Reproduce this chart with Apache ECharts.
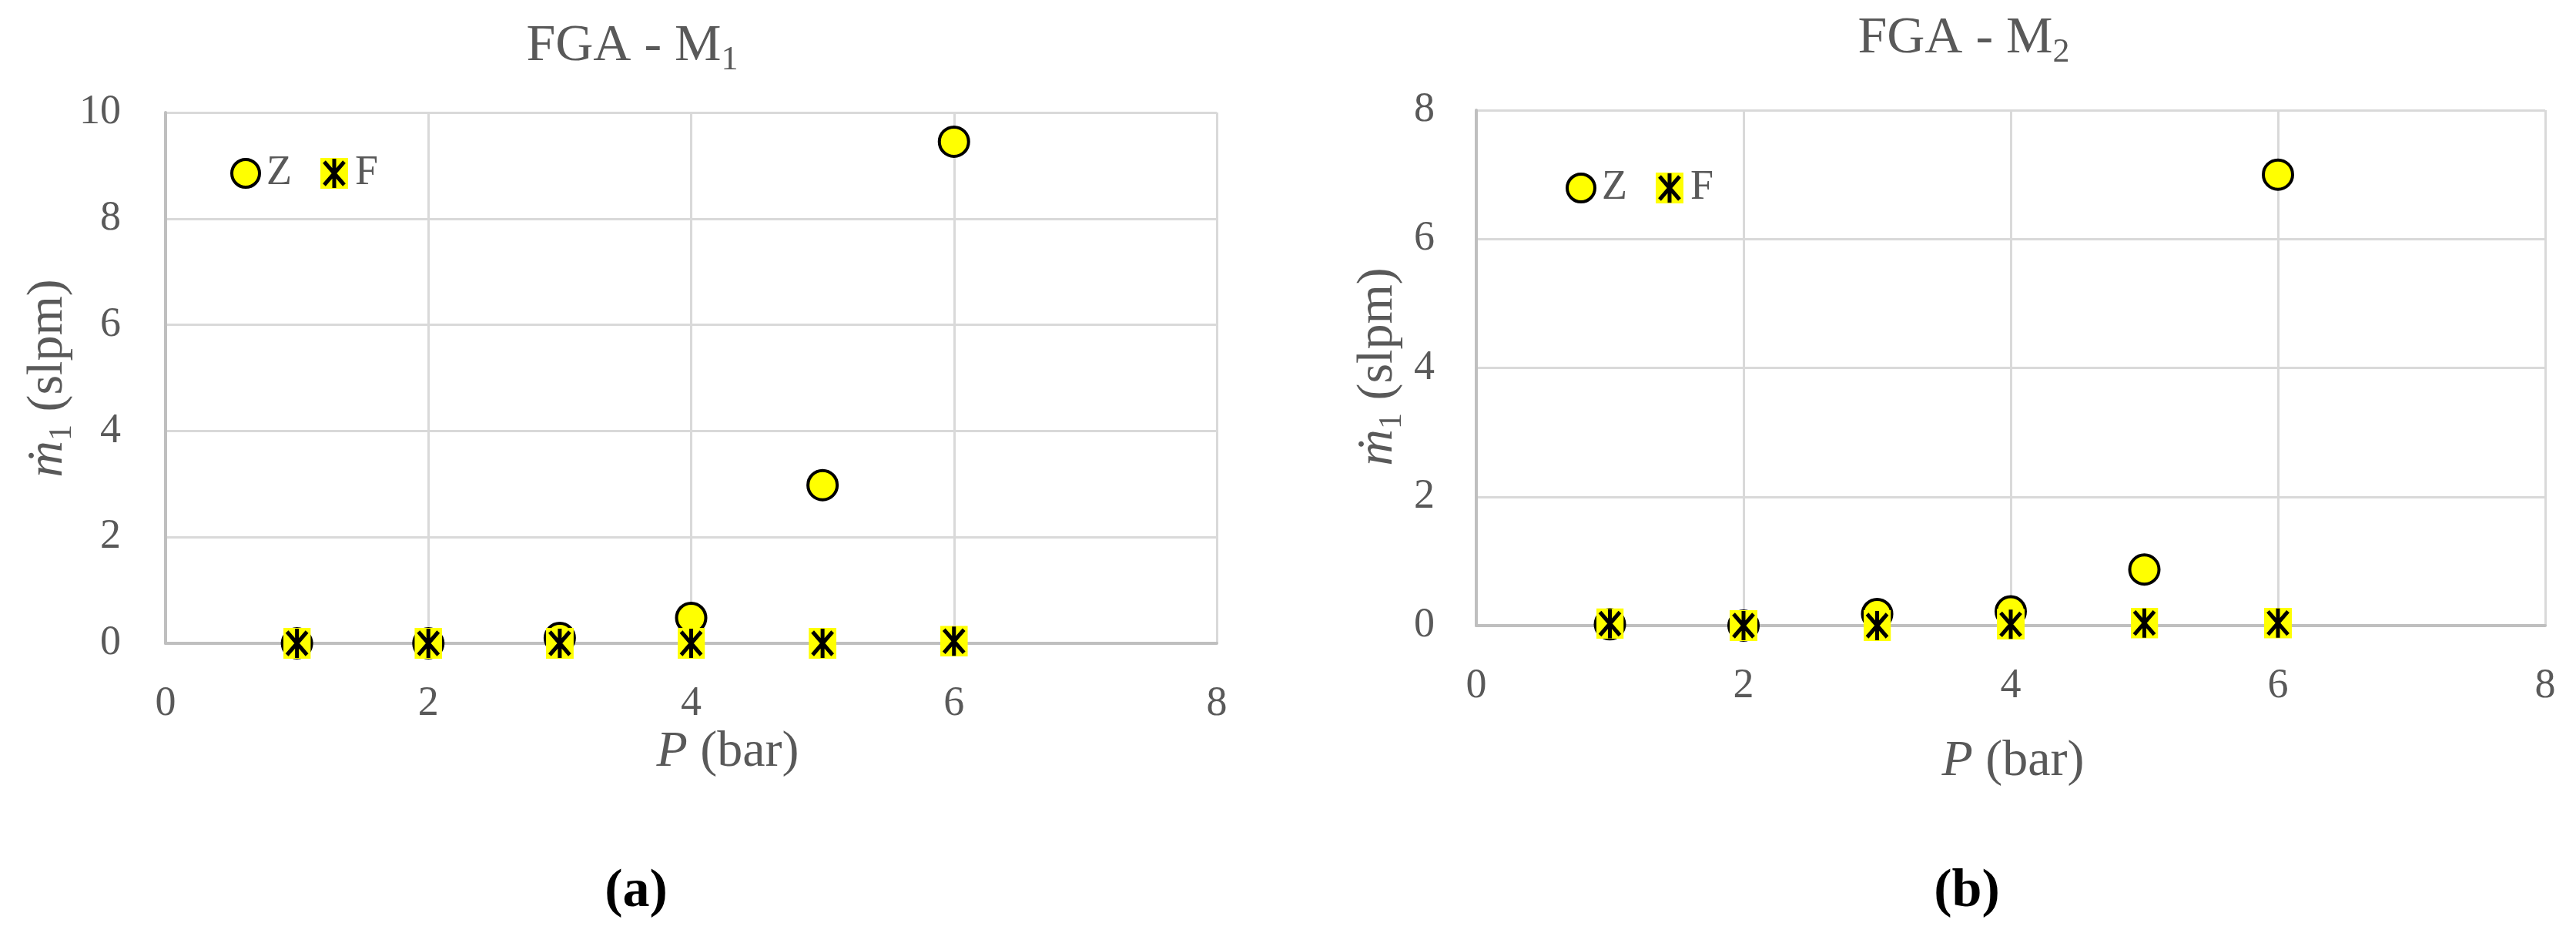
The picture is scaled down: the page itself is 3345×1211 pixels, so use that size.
<!DOCTYPE html>
<html>
<head>
<meta charset="utf-8">
<script src="https://cdn.jsdelivr.net/npm/echarts@6/dist/echarts.min.js"></script>
<style>
html,body{margin:0;padding:0;background:#fff;}
#chart{width:3345px;height:1211px;}
</style>
</head>
<body>
<div id="chart"></div>
<script>
// ---- data ----
const pressure = [1, 2, 3, 4, 5, 6];
const m1_Z = [0, 0, 0.1, 0.48, 2.98, 9.45];
const m1_F = [0, 0, 0, 0, 0, 0.04];
const m2_Z = [0.02, 0, 0.18, 0.22, 0.87, 7.0];
const m2_F = [0.03, 0, 0, 0.02, 0.04, 0.04];
const xTicks = [0, 2, 4, 6, 8];
const yTicksA = [0, 2, 4, 6, 8, 10];
const yTicksB = [0, 2, 4, 6, 8];
const seriesNames = ['Z', 'F'];
const panelTitles = ['FGA - M', 'FGA - M'];
const panelSubs = ['1', '2'];
const panelLabels = ['(a)', '(b)'];

const pairs = (xs, ys) => xs.map((x, i) => [x, ys[i]]);

const FONT = "'Liberation Serif', 'Times New Roman', serif";
const GREY = '#595959';
const fSvg = '<svg xmlns="http://www.w3.org/2000/svg" width="36" height="40" viewBox="0 0 36 40">' +
  '<rect width="36" height="40" fill="#FFFF00"/>' +
  '<path d="M5 5L31 35M31 5L5 35M18 1L18 39" stroke="#000" stroke-width="5" fill="none"/></svg>';
const fSymbol = 'image://data:image/svg+xml;charset=utf-8,' + encodeURIComponent(fSvg);

const grids = [
  {left: 215, top: 146, width: 1365, height: 689},
  {left: 1917, top: 143, width: 1388, height: 669}
];

function xAxis(gi) {
  return {
    type: 'value', gridIndex: gi, min: xTicks[0], max: xTicks[xTicks.length - 1], interval: 2,
    axisLine: {show: true, lineStyle: {color: '#bfbfbf', width: 4}},
    axisTick: {show: false},
    splitLine: {show: true, lineStyle: {color: '#d9d9d9', width: 3}},
    axisLabel: {fontFamily: FONT, fontSize: 54, color: GREY, margin: 52}
  };
}
function yAxis(gi, max) {
  return {
    type: 'value', gridIndex: gi, min: 0, max: max, interval: 2,
    axisLine: {show: true, lineStyle: {color: '#bfbfbf', width: 4}},
    axisTick: {show: false},
    splitLine: {show: true, lineStyle: {color: '#d9d9d9', width: 3}},
    axisLabel: {fontFamily: FONT, fontSize: 54, color: GREY, margin: gi === 0 ? 58 : 54}
  };
}

function zSeries(gi, ys) {
  return {
    name: seriesNames[0], type: 'scatter', xAxisIndex: gi, yAxisIndex: gi,
    data: pairs(pressure, ys), symbol: 'circle', symbolSize: 38,
    itemStyle: {color: '#FFFF00', borderColor: '#000', borderWidth: 4, opacity: 1},
    z: 3
  };
}
function fSeries(gi, ys) {
  return {
    name: seriesNames[1], type: 'scatter', xAxisIndex: gi, yAxisIndex: gi,
    data: pairs(pressure, ys), symbol: fSymbol, symbolSize: [36, 40],
    itemStyle: {color: '#FFFF00', opacity: 1},
    z: 4
  };
}

function legend(left, top) {
  return {
    left: left, top: top, orient: 'horizontal', padding: 0,
    itemWidth: 36, itemHeight: 40, itemGap: 37,
    selectedMode: false,
    data: [
      {name: seriesNames[0], icon: 'circle', itemStyle: {color: '#FFFF00', borderColor: '#000', borderWidth: 4}},
      {name: seriesNames[1], icon: fSymbol}
    ],
    textStyle: {fontFamily: FONT, fontSize: 54, color: GREY, padding: [0, 0, 0, 4]}
  };
}

const titleRich = {
  m: {fontFamily: FONT, fontSize: 68, fill: GREY, color: GREY},
  s: {fontFamily: FONT, fontSize: 44, fill: GREY, color: GREY, verticalAlign: 'bottom', lineHeight: 80}
};
const yRich = {
  m: {fontFamily: FONT, fontSize: 66, fontStyle: 'italic', color: GREY, fill: GREY},
  s: {fontFamily: FONT, fontSize: 42, color: GREY, fill: GREY, verticalAlign: 'bottom', lineHeight: 78},
  t: {fontFamily: FONT, fontSize: 66, color: GREY, fill: GREY}
};
const xRich = {
  p: {fontFamily: FONT, fontSize: 66, fontStyle: 'italic', color: GREY, fill: GREY},
  t: {fontFamily: FONT, fontSize: 66, color: GREY, fill: GREY}
};

function textEl(x, y, text, rich, rotation) {
  return {
    type: 'text', x: x, y: y, rotation: rotation || 0,
    style: {text: text, rich: rich, align: 'center', verticalAlign: 'middle', fill: GREY}
  };
}

const graphics = [
  textEl(821, 60, '{m|' + panelTitles[0] + '}{s|' + panelSubs[0] + '}', titleRich),
  textEl(2550, 50, '{m|' + panelTitles[1] + '}{s|' + panelSubs[1] + '}', titleRich),
  textEl(945, 977, '{p|P}{t| (bar)}', xRich),
  textEl(2614, 989, '{p|P}{t| (bar)}', xRich),
  textEl(63, 491, '{m|ṁ}{s|1}{t| (slpm)}', yRich, Math.PI / 2),
  textEl(1790, 476, '{m|ṁ}{s|1}{t| (slpm)}', yRich, Math.PI / 2),
  {type: 'text', x: 826, y: 1158, style: {text: panelLabels[0], font: "bold 70px 'Liberation Serif', serif", fill: '#000', align: 'center', verticalAlign: 'middle'}},
  {type: 'text', x: 2554, y: 1158, style: {text: panelLabels[1], font: "bold 70px 'Liberation Serif', serif", fill: '#000', align: 'center', verticalAlign: 'middle'}}
];

const chart = echarts.init(document.getElementById('chart'), null, {renderer: 'canvas'});
chart.setOption({
  backgroundColor: '#ffffff',
  animation: false,
  grid: grids,
  xAxis: [xAxis(0), xAxis(1)],
  yAxis: [yAxis(0, yTicksA[yTicksA.length - 1]), yAxis(1, yTicksB[yTicksB.length - 1])],
  legend: [legend(299, 198), legend(2033, 217)],
  series: [zSeries(0, m1_Z), fSeries(0, m1_F), zSeries(1, m2_Z), fSeries(1, m2_F)],
  graphic: graphics
});
</script>
</body>
</html>
